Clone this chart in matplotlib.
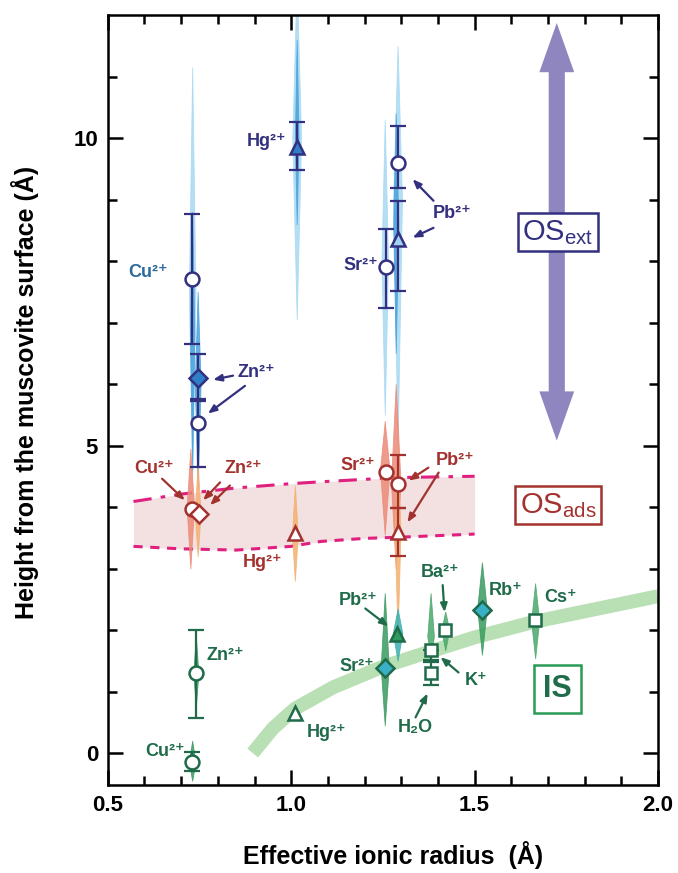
import matplotlib
matplotlib.use('Agg')
import matplotlib.pyplot as plt
from matplotlib import font_manager
from matplotlib.patches import FancyArrow
import numpy as np

names = {f.name for f in font_manager.fontManager.ttflist}
main = 'Liberation Sans Narrow' if 'Liberation Sans Narrow' in names else 'Liberation Sans'
narrow = main == 'Liberation Sans Narrow'
plt.rcParams['font.family'] = [main, 'DejaVu Sans']
plt.rcParams['font.weight'] = 'bold'
plt.rcParams['mathtext.fontset'] = 'custom'
plt.rcParams['mathtext.rm'] = main + ':weight=normal'
plt.rcParams['mathtext.bf'] = main + ':bold'

NAVY = '#33307f'
RED = '#a3322f'
GREEN = '#1f6b4a'

# ---- OS_ext (outer-sphere, extended) ----
ext_ion = ['Cu', 'Zn', 'Zn', 'Hg', 'Sr', 'Pb', 'Pb']
ext_r = [0.73, 0.745, 0.745, 1.015, 1.258, 1.29, 1.29]
ext_h = [7.70, 6.10, 5.37, 9.85, 7.90, 9.59, 8.36]
ext_lo = [6.65, 5.75, 4.65, 9.48, 7.24, 9.19, 7.52]
ext_hi = [8.77, 6.49, 5.73, 10.26, 8.52, 10.20, 8.98]
ext_mk = ['o', 'D', 'o', '^', 'o', 'o', '^']
ext_fc = ['white', '#2f7fc8', 'white', '#2f7fc8', 'white', 'white', '#9fd3f0']

# ---- OS_ads (outer-sphere, adsorbed) ----
ads_ion = ['Cu', 'Zn', 'Hg', 'Sr', 'Pb', 'Pb']
ads_r = [0.73, 0.748, 1.01, 1.258, 1.29, 1.29]
ads_h = [3.97, 3.88, 3.57, 4.57, 4.38, 3.59]
ads_lo = [np.nan, np.nan, np.nan, np.nan, 3.99, 3.21]
ads_hi = [np.nan, np.nan, np.nan, np.nan, 4.84, 3.99]
ads_mk = ['o', 'D', '^', 'o', 'o', '^']

# ---- IS (inner-sphere) ----
is_ion = ['Cu', 'Zn', 'Hg', 'Sr', 'Pb', 'K', 'H2O', 'Ba', 'Rb', 'Cs']
is_r = [0.73, 0.74, 1.01, 1.257, 1.288, 1.38, 1.38, 1.42, 1.52, 1.665]
is_h = [-0.15, 1.30, 0.65, 1.39, 1.93, 1.67, 1.30, 2.00, 2.33, 2.16]
is_lo = [-0.30, 0.57, np.nan, np.nan, np.nan, 1.52, 1.10, np.nan, np.nan, np.nan]
is_hi = [0.02, 2.00, np.nan, np.nan, np.nan, 1.67, 1.48, np.nan, np.nan, np.nan]
is_mk = ['o', 'o', '^', 'D', '^', 's', 's', 's', 'D', 's']
is_fc = ['white', 'white', 'white', '#39b0c8', '#2f9a60', 'white', 'white', 'white', '#39b0c8', 'white']

# ---- height distributions: x, bottom, peak, top, half width, colour ----
dist_x = [0.73, 0.73, 0.745, 1.015, 1.015, 1.255, 1.29, 1.285,
          0.725, 0.745, 1.01, 1.255, 1.285, 1.29,
          0.73, 0.74, 1.255, 1.29, 1.38, 1.42, 1.52, 1.665]
dist_lo = [4.5, 4.6, 4.3, 7.05, 8.6, 5.5, 5.0, 6.5,
           3.0, 3.2, 2.8, 3.55, 3.0, 1.9,
           -0.45, 0.75, 0.45, 1.5, 1.5, 1.67, 1.6, 1.54]
dist_pk = [7.5, 6.8, 6.0, 10.0, 10.0, 8.0, 9.0, 8.6,
           4.0, 3.9, 3.55, 4.6, 4.4, 3.6,
           -0.15, 1.3, 1.4, 1.95, 1.9, 2.0, 2.35, 2.15]
dist_hi = [11.15, 8.8, 7.5, 12.6, 11.6, 10.3, 11.5, 10.4,
           4.95, 4.7, 4.35, 5.4, 6.0, 4.9,
           0.2, 1.9, 2.6, 2.35, 2.6, 2.3, 3.1, 2.76]
dist_w = [0.009, 0.006, 0.008, 0.012, 0.005, 0.009, 0.012, 0.007,
          0.010, 0.008, 0.008, 0.013, 0.013, 0.008,
          0.009, 0.007, 0.011, 0.013, 0.009, 0.011, 0.013, 0.011]
dist_c = ['#a6d9f3', '#4aa2dc', '#4aa2dc', '#a6d9f3', '#4aa2dc', '#a6d9f3', '#a6d9f3', '#4aa2dc',
          '#ec8a78', '#f4b070', '#f4b070', '#ec8a78', '#ec8a78', '#f4b070',
          '#3a9a60', '#3a9a60', '#3a9a60', '#3ab0b0', '#4aa86c', '#4aa86c', '#3a9a60', '#4aa86c']

# ---- OS_ads band ----
band_x = [0.57, 0.7, 0.85, 1.0, 1.08, 1.2, 1.3, 1.5]
band_top = [4.09, 4.21, 4.31, 4.38, 4.41, 4.45, 4.48, 4.50]
band_bot = [3.36, 3.32, 3.30, 3.36, 3.44, 3.49, 3.51, 3.56]

# ---- IS trend curve ----
curve_x = [0.895, 0.95, 1.01, 1.115, 1.24, 1.3, 1.5, 1.66, 2.0]
curve_y = [0.0, 0.40, 0.72, 1.07, 1.38, 1.50, 1.88, 2.13, 2.55]


def sup(s, c):
    return s + c.replace('2', '²').replace('+', '⁺')


fig = plt.figure(figsize=(6.78, 8.73), dpi=100)
ax = fig.add_axes([0.159, 0.1008, 0.8115, 0.882])
ax.set_xlim(0.5, 2.0)
ax.set_ylim(-0.52, 12.0)

# band + curve
ax.fill_between(band_x, band_bot, band_top, color='#f3e0e0', zorder=0, lw=0)
ax.plot(band_x, band_top, color='#e0207f', lw=2.2, ls=(0, (6, 3, 1.5, 3)), zorder=1)
ax.plot(band_x, band_bot, color='#e0207f', lw=2.2, ls=(0, (3, 2.5)), zorder=1)
ax.plot(curve_x, curve_y, color='#b8e0b4', lw=10, solid_capstyle='butt', zorder=0)

# distributions
for x, lo, pk, hi, w, c in zip(dist_x, dist_lo, dist_pk, dist_hi, dist_w, dist_c):
    yy = [lo, pk, hi]
    ww = np.array([0, w, 0])
    ax.fill_betweenx(yy, x - ww, x + ww, color=c, alpha=0.85, lw=0.6, zorder=2)

# purple double arrow
for dy in [11.87 - 8.47, 5.08 - 8.47]:
    ax.add_patch(FancyArrow(1.724, 8.47, 0, dy, width=0.044, head_width=0.095,
                            head_length=0.8, length_includes_head=True,
                            color='#8f86bf', lw=0, zorder=1))


def points(xs, ys, lo, hi, mks, fcs, col):
    for x, y, l, h, m, f in zip(xs, ys, lo, hi, mks, fcs):
        if not np.isnan(l):
            ax.errorbar([x], [y], yerr=[[y - l], [h - y]], fmt='none', ecolor=col,
                        elinewidth=1.6, capsize=6, capthick=1.6, zorder=4)
        ms = 10 if m in ('o', '^') else 9
        if m == 's':
            ms = 8.5
        ax.plot(x, y, marker=m, ms=ms, mfc=f, mec=col, mew=1.8, ls='none', zorder=5)


points(ext_r, ext_h, ext_lo, ext_hi, ext_mk, ext_fc, NAVY)
points(ads_r, ads_h, ads_lo, ads_hi, ads_mk, ['white'] * 6, RED)
points(is_r, is_h, is_lo, is_hi, is_mk, is_fc, GREEN)

# labels
fs = 14 if narrow else 13
lab = [
    (sup('Cu', '2+'), 0.609, 7.81, '#2b6a9c'),
    (sup('Hg', '2+'), 0.932, 9.95, NAVY),
    (sup('Zn', '2+'), 0.904, 6.19, NAVY),
    (sup('Pb', '2+'), 1.44, 8.77, NAVY),
    (sup('Sr', '2+'), 1.19, 7.92, NAVY),
    (sup('Cu', '2+'), 0.626, 4.63, RED),
    (sup('Zn', '2+'), 0.869, 4.63, RED),
    (sup('Hg', '2+'), 0.923, 3.10, RED),
    (sup('Sr', '2+'), 1.183, 4.68, RED),
    (sup('Pb', '2+'), 1.448, 4.76, RED),
    (sup('Zn', '2+'), 0.82, 1.59, GREEN),
    (sup('Cu', '2+'), 0.656, 0.02, GREEN),
    (sup('Hg', '2+'), 1.096, 0.34, GREEN),
    (sup('Pb', '2+'), 1.183, 2.48, GREEN),
    (sup('Sr', '2+'), 1.178, 1.40, GREEN),
    (sup('Ba', '2+'), 1.407, 2.94, GREEN),
    (sup('Rb', '+'), 1.585, 2.65, GREEN),
    (sup('Cs', '+'), 1.735, 2.53, GREEN),
    (sup('K', '+'), 1.503, 1.18, GREEN),
    ('H₂O', 1.339, 0.42, GREEN),
]
for t, x, y, c in lab:
    ax.text(x, y, t, color=c, fontsize=fs, fontweight='bold', ha='center', va='center', zorder=6)

arrows = [
    (0.8415, 6.136, 0.787, 6.07, NAVY),
    (0.874, 5.97, 0.773, 5.52, NAVY),
    (1.388, 8.98, 1.331, 9.33, NAVY),
    (1.388, 8.54, 1.331, 8.38, NAVY),
    (0.648, 4.46, 0.710, 4.11, RED),
    (0.806, 4.40, 0.760, 4.11, RED),
    (0.833, 4.35, 0.779, 4.03, RED),
    (1.374, 4.64, 1.320, 4.43, RED),
    (1.402, 4.56, 1.317, 3.75, RED),
    (1.202, 2.35, 1.265, 2.06, GREEN),
    (1.413, 2.73, 1.418, 2.29, GREEN),
    (1.456, 1.31, 1.407, 1.56, GREEN),
    (1.339, 0.58, 1.372, 0.97, GREEN),
]
for x0, y0, x1, y1, c in arrows:
    ax.annotate('', xy=(x1, y1), xytext=(x0, y0),
                arrowprops=dict(arrowstyle='-|>,head_length=0.5,head_width=0.2',
                                color=c, lw=1.6, shrinkA=0, shrinkB=0), zorder=6)

# region boxes
bs = 24 if narrow else 21
ax.text(1.727, 8.47, r'OS$_{\mathrm{ext}}$', color=NAVY, fontsize=bs, fontweight='normal',
        ha='center', va='center', zorder=7,
        bbox=dict(boxstyle='square,pad=0.15', fc='white', ec=NAVY, lw=1.8))
ax.text(1.727, 4.03, r'OS$_{\mathrm{ads}}$', color=RED, fontsize=bs, fontweight='normal',
        ha='center', va='center', zorder=7,
        bbox=dict(boxstyle='square,pad=0.15', fc='white', ec=RED, lw=1.8))
ax.text(1.727, 1.04, 'IS', color=GREEN, fontsize=bs + 1, fontweight='bold',
        ha='center', va='center', zorder=7,
        bbox=dict(boxstyle='square,pad=0.3', fc='white', ec='#2a9a55', lw=1.8))

# axes cosmetics
ax.set_xticks([0.5, 1.0, 1.5, 2.0])
ax.set_xticklabels(['0.5', '1.0', '1.5', '2.0'])
ax.set_xticks(np.arange(0.5, 2.01, 0.1), minor=True)
ax.set_yticks([0, 5, 10])
ax.set_yticks(np.arange(0, 12, 1), minor=True)
ax.tick_params(which='both', direction='in', top=True, right=True, width=1.8,
               labelsize=17 if narrow else 16, pad=7)
ax.tick_params(which='major', length=11)
ax.tick_params(which='minor', length=6.5)
for s in ax.spines.values():
    s.set_linewidth(1.8)
als = 20 if narrow else 18
ax.set_xlabel('Effective ionic radius  (Å)', fontsize=als, fontweight='bold')
ax.set_ylabel('Height from the muscovite surface (Å)', fontsize=als, fontweight='bold')
ax.xaxis.set_label_coords(0.518, -0.073)
ax.yaxis.set_label_coords(-0.125, 0.51)

fig.savefig('out.png', dpi=100)
